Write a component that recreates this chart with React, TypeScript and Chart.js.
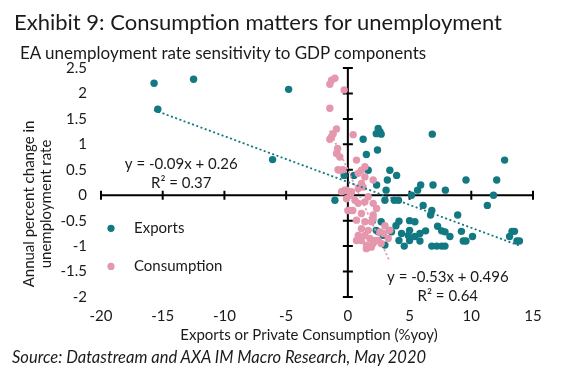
import React, { useEffect, useRef } from "react";
import { Chart, registerables } from "chart.js";

Chart.register(...registerables);

const FONT = "Lato, 'Open Sans', sans-serif";
const TEAL = "#127982";
const PINK = "#E497AD";
const TEXT = "#1a1a1a";

const TITLE = "Exhibit 9: Consumption matters for unemployment";
const SUBTITLE = "EA unemployment rate sensitivity to GDP components";
const SOURCE = "Source: Datastream and AXA IM Macro Research, May 2020";
const X_TITLE = "Exports or Private Consumption (%yoy)";
const Y_TITLE = ["Annual percent change in", "unemployment rate"];

const X_MIN = -20;
const X_MAX = 15;
const X_STEP = 5;
const Y_MIN = -2;
const Y_MAX = 2.5;
const Y_STEP = 0.5;

const seriesNames = ["Exports", "Consumption"];

const exportsX = [
  -15.7, -12.5, -4.8, -15.4, -6.1, -1.05, -0.3,
  1.24, 2.3, 2.6, 2.46, 2.7, 1.5, 2.4, 6.84, 12.7,
  1.65, 3.4, 3.95, 3.2, 3.1, 9.57, 12.06, 5.9, 6.9, 5.65, 7.9, 5.16, 11.8, 2.33, 0.49,
  3.0, 3.76, 4.1, 11.3, 6.1, 6.8, 6.7, 8.9,
  2.7, 4.14, 5.0, 5.43, 5.0, 6.3, 7.27, 7.6, 7.87, 8.27, 9.2, 10.1, 9.35, 9.57,
  13.3, 13.5, 13.1, 13.7, 13.9, 5.0, 5.84, 6.8, 7.2, 7.6, 7.87, 4.57, 4.14, 5.43,
  4.9, 2.46, 3.54, 3.0, 2.3, 3.4, 2.87, 4.35, 5.84, 2.0, 3.9
];
const exportsY = [
  2.2, 2.28, 2.08, 1.69, 0.7, -0.1, 0.39,
  1.1, 1.21, 1.25, 1.31, 1.2, 0.8, 0.89, 1.2, 0.69,
  0.49, 0.49, 0.39, 0.3, 0.1, 0.3, 0.3, 0.2, 0.2, 0.1, 0.1, 0.0, 0.0, 0.2, 0.39,
  -0.1, -0.1, -0.1, -0.2, -0.2, -0.3, -0.39, -0.39,
  -0.52, -0.51, -0.5, -0.52, -0.69, -0.7, -0.61, -0.7, -0.72, -0.81, -0.71, -0.81, -0.9, -0.9,
  -0.71, -0.71, -0.81, -0.9, -0.9, -0.89, -0.9, -1.0, -1.0, -1.0, -1.0, -1.0, -0.89, -0.81,
  -0.79, -0.72, -0.72, -0.98, -0.69, -0.69, -0.79, -0.75, -0.75, -0.5, -0.6
];

const consumptionX = [
  -1.32, -1.05, -1.46, -0.3, -1.46, -0.92, -1.19, -1.46, -1.32, 0.43, -0.83, -0.92, -0.65, 0.7,
  -0.8, -0.4, -0.65, 1.1, 1.38, 1.1, -0.24, 0.3, 0.84, 1.65, 0.57, 0.84, 1.38, 2.05, 2.33,
  0.16, 1.1, 2.05, 0.7, 1.38, 1.92, 1.1, 1.65, 1.38, 1.78, 1.1, 2.19, 1.51, 2.05, 2.6, 2.46,
  0.84, 0.7, -0.51, -0.11, 1.38, 0.84, 0.0, -0.1, 2.05, 1.24, 0.4, 2.05,
  3.27, 3.4, 2.9, 2.7, 3.0, 1.5, 0.2, 1.9
];
const consumptionY = [
  2.26, 2.3, 2.18, 2.07, 1.71, 1.3, 1.21, 1.1, 1.15, 1.19, 0.92, 0.82, 0.75, 0.69,
  0.5, 0.5, 0.49, 0.49, 0.36, 0.23, 0.1, 0.07, 0.13, -0.03, -0.1, -0.16, -0.13, -0.16, -0.26,
  -0.3, -0.36, -0.39, -0.49, -0.52, -0.52, -0.66, -0.69, -0.79, -0.85, -0.89, -0.89, -0.98, -0.95, -0.72, -0.89,
  -0.79, -0.89, 0.07, -0.07, 0.56, 0.43, -0.3, 0.1, 0.3, 0.16, -0.3, -0.46,
  -0.85, -0.69, -0.75, -0.95, -0.6, -1.05, 0.0, -1.02
];

const exportsSlope = -0.09;
const exportsIntercept = 0.26;
const consumptionSlope = -0.53;
const consumptionIntercept = 0.496;
const exportsEquation = ["y = -0.09x + 0.26", "R² = 0.37"];
const consumptionEquation = ["y = -0.53x + 0.496", "R² = 0.64"];

const toPoints = (xs: number[], ys: number[]) => xs.map((x, i) => ({ x, y: ys[i] }));
const trend = (xs: number[], m: number, b: number) => {
  const lo = Math.min(...xs);
  const hi = Math.max(...xs);
  return [
    { x: lo, y: m * lo + b },
    { x: hi, y: m * hi + b },
  ];
};
const fmt = (v: any) => String(Math.round(Number(v) * 10) / 10);

const crossAxes = {
  id: "crossAxes",
  beforeDatasetsDraw(chart: any) {
    const { ctx, chartArea, scales } = chart;
    const xs = scales.x;
    const ys = scales.y;
    const x0 = xs.getPixelForValue(0);
    const y0 = ys.getPixelForValue(0);
    ctx.save();
    ctx.strokeStyle = "#000";
    ctx.lineWidth = 2;
    ctx.beginPath();
    ctx.moveTo(chartArea.left, y0);
    ctx.lineTo(chartArea.right, y0);
    ctx.moveTo(x0, chartArea.top);
    ctx.lineTo(x0, chartArea.bottom);
    xs.ticks.forEach((t: any) => {
      const px = xs.getPixelForValue(t.value);
      ctx.moveTo(px, y0 - 4.5);
      ctx.lineTo(px, y0 + 4.5);
    });
    ys.ticks.forEach((t: any) => {
      const py = ys.getPixelForValue(t.value);
      ctx.moveTo(x0 - 5, py);
      ctx.lineTo(x0 + 5, py);
    });
    ctx.stroke();
    ctx.restore();
  },
};

const textLayer = {
  id: "textLayer",
  afterDraw(chart: any) {
    const { ctx, chartArea, scales } = chart;
    const xs = scales.x;
    const ys = scales.y;
    ctx.save();
    ctx.fillStyle = TEXT;
    ctx.textBaseline = "middle";

    // x axis title
    ctx.font = `15px ${FONT}`;
    ctx.textAlign = "center";
    ctx.fillText(X_TITLE, 309, 335);

    // y axis title
    ctx.save();
    ctx.translate(38, 204);
    ctx.rotate(-Math.PI / 2);
    ctx.fillText(Y_TITLE[0], 0, -8.5);
    ctx.fillText(Y_TITLE[1], 0, 8.5);
    ctx.restore();

    // regression equations
    ctx.font = `15px ${FONT}`;
    const ex = xs.getPixelForValue(-13.5);
    ctx.fillText(exportsEquation[0], ex, ys.getPixelForValue(0.61));
    ctx.fillText(exportsEquation[1], ex, ys.getPixelForValue(0.23));
    const cx = xs.getPixelForValue(8.1);
    ctx.fillText(consumptionEquation[0], cx, ys.getPixelForValue(-1.61));
    ctx.fillText(consumptionEquation[1], cx, ys.getPixelForValue(-1.98));

    // legend
    const colors = [TEAL, PINK];
    const lx = chartArea.left + 10;
    const lys = [ys.getPixelForValue(-0.65), ys.getPixelForValue(-1.4)];
    ctx.textAlign = "left";
    seriesNames.forEach((name, i) => {
      ctx.fillStyle = colors[i];
      ctx.beginPath();
      ctx.arc(lx, lys[i], 3.6, 0, Math.PI * 2);
      ctx.fill();
      ctx.fillStyle = TEXT;
      ctx.fillText(name, lx + 23, lys[i]);
    });
    ctx.restore();
  },
};

export default function App() {
  const ref = useRef<HTMLCanvasElement>(null);

  useEffect(() => {
    const canvas = ref.current;
    if (!canvas) return;
    const tickFont = { family: FONT, size: 15 };
    const chart = new Chart(canvas, {
      type: "scatter",
      data: {
        datasets: [
          {
            label: "Exports trend",
            data: trend(exportsX, exportsSlope, exportsIntercept),
            showLine: true,
            borderColor: TEAL,
            borderWidth: 1.8,
            borderDash: [2, 2.5],
            pointRadius: 0,
            fill: false,
          },
          {
            label: "Consumption trend",
            data: trend(consumptionX, consumptionSlope, consumptionIntercept),
            showLine: true,
            borderColor: PINK,
            borderWidth: 1.8,
            borderDash: [2, 2.5],
            pointRadius: 0,
            fill: false,
          },
          {
            label: seriesNames[1],
            data: toPoints(consumptionX, consumptionY),
            backgroundColor: PINK,
            borderWidth: 0,
            pointRadius: 3.7,
            pointHoverRadius: 3.7,
          },
          {
            label: seriesNames[0],
            data: toPoints(exportsX, exportsY),
            backgroundColor: TEAL,
            borderWidth: 0,
            pointRadius: 3.7,
            pointHoverRadius: 3.7,
          },
        ],
      },
      options: {
        responsive: false,
        animation: false,
        events: [],
        layout: { padding: { left: 0, right: 29, top: 68, bottom: 0 } },
        plugins: {
          legend: { display: false },
          tooltip: { enabled: false },
          title: { display: false },
        },
        scales: {
          x: {
            type: "linear",
            min: X_MIN,
            max: X_MAX,
            ticks: { stepSize: X_STEP, padding: 10, font: tickFont, color: TEXT, callback: fmt },
            grid: { display: false, drawTicks: false },
            border: { display: false },
            afterFit: (s: any) => {
              s.height = 79;
            },
          },
          y: {
            type: "linear",
            min: Y_MIN,
            max: Y_MAX,
            ticks: { stepSize: Y_STEP, padding: 14, font: tickFont, color: TEXT, callback: fmt },
            grid: { display: false, drawTicks: false },
            border: { display: false },
            afterFit: (s: any) => {
              s.width = 101;
            },
          },
        },
      },
      plugins: [crossAxes, textLayer],
    } as any);
    return () => chart.destroy();
  }, []);

  return (
    <div
      style={{
        position: "absolute",
        left: 0,
        top: 0,
        width: 562,
        height: 376,
        background: "#fff",
        fontFamily: FONT,
        color: TEXT,
        overflow: "hidden",
      }}
    >
      <canvas
        ref={ref}
        width={562}
        height={376}
        style={{ position: "absolute", left: 0, top: 0, width: 562, height: 376 }}
      />
      <div
        style={{
          position: "absolute",
          left: 14,
          top: 7,
          fontSize: 22,
          lineHeight: "30px",
          whiteSpace: "nowrap",
        }}
      >
        {TITLE}
      </div>
      <div
        style={{
          position: "absolute",
          left: 20,
          top: 42,
          fontSize: 17,
          lineHeight: "22px",
          whiteSpace: "nowrap",
        }}
      >
        {SUBTITLE}
      </div>
      <div
        style={{
          position: "absolute",
          left: 12,
          top: 346,
          fontSize: 16.5,
          fontStyle: "italic",
          lineHeight: "22px",
          whiteSpace: "nowrap",
        }}
      >
        {SOURCE}
      </div>
    </div>
  );
}
